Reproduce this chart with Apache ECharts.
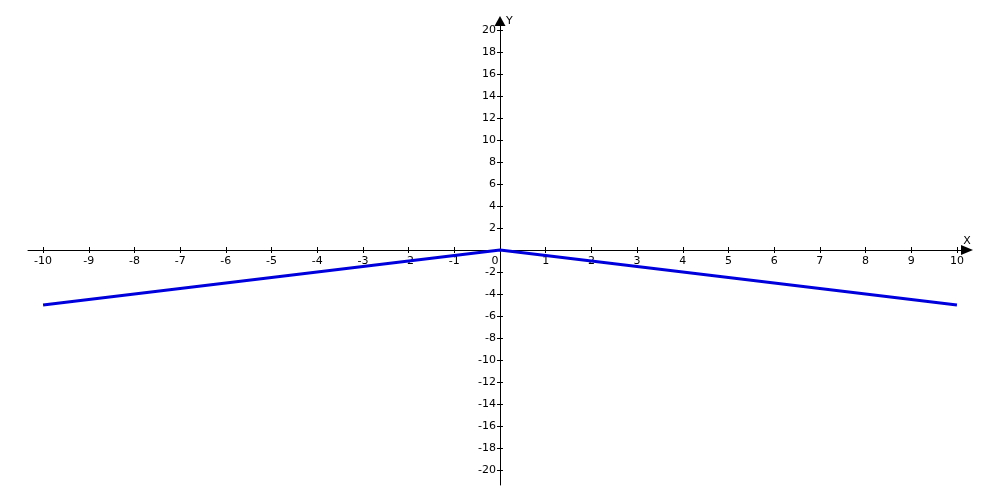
<!DOCTYPE html>
<html><head><meta charset="utf-8">
<script src="https://cdn.jsdelivr.net/npm/echarts@6/dist/echarts.min.js"></script>
<style>html,body{margin:0;padding:0;background:#fff}#c{width:1000px;height:500px}</style>
</head><body><div id="c"></div>
<script>
const xTicks = [-10,-9,-8,-7,-6,-5,-4,-3,-2,-1,0,1,2,3,4,5,6,7,8,9,10];
const yTicks = [-20,-18,-16,-14,-12,-10,-8,-6,-4,-2,2,4,6,8,10,12,14,16,18,20];
const xValues = [-10, 0, 10];
const yValues = [-5, 0, -5];

const font = 'DejaVu Sans';
const X_MIN = -10.33, X_MAX = 10.22, Y_MIN = -21.36, Y_MAX = 20.9;
const chart = echarts.init(document.getElementById('c'), null, {renderer:'canvas'});
const hidden = {axisLine:{show:false}, axisTick:{show:false}, axisLabel:{show:false}, splitLine:{show:false}};
const xCommon = {type:'value', min:X_MIN, max:X_MAX, splitLine:{show:false}};
const yCommon = {type:'value', min:Y_MIN, max:Y_MAX, splitLine:{show:false}};
chart.setOption({
  animation:false,
  backgroundColor:'#fff',
  grid:[
    {left:28, right:33, top:20, bottom:15},   // data
    {left:28, right:33, top:20, bottom:250},  // x axis along y=0
    {left:500, right:33, top:20, bottom:15}   // y axis along x=0
  ],
  xAxis:[
    Object.assign({gridIndex:0}, xCommon, hidden),
    Object.assign({gridIndex:1, position:'bottom'}, xCommon, {
      axisLine:{onZero:false, lineStyle:{color:'#000', width:1}, symbol:['none','triangle'], symbolSize:[10,12], symbolOffset:[0,0]},
      axisTick:{show:true, length:3, customValues:xTicks, lineStyle:{color:'#000'}},
      axisLabel:{customValues:xTicks, color:'#000', fontFamily:font, fontSize:11, margin:6,
        formatter:function(v){ return v===0 ? '{z|0}' : String(v); },
        rich:{z:{padding:[0,10,0,0], color:'#000', fontFamily:font, fontSize:11}}},
      name:'X', nameLocation:'end', nameGap:0,
      nameTextStyle:{color:'#000', fontFamily:font, fontSize:11, align:'center', verticalAlign:'bottom', padding:[0,0,3,0]}
    }),
    Object.assign({gridIndex:1, position:'bottom'}, xCommon, {
      axisLine:{show:false, onZero:false},
      axisTick:{show:true, inside:true, length:3, customValues:xTicks, lineStyle:{color:'#000'}},
      axisLabel:{show:false}
    }),
    Object.assign({gridIndex:2}, {type:'value', min:0, max:X_MAX}, hidden)
  ],
  yAxis:[
    Object.assign({gridIndex:0}, yCommon, hidden),
    Object.assign({gridIndex:1}, {type:'value', min:0, max:Y_MAX}, hidden),
    Object.assign({gridIndex:2, position:'left'}, yCommon, {
      axisLine:{onZero:false, lineStyle:{color:'#000', width:1}, symbol:['none','triangle'], symbolSize:[11,10], symbolOffset:[0,-1]},
      axisTick:{show:true, length:3, customValues:yTicks, lineStyle:{color:'#000'}},
      axisLabel:{customValues:yTicks, color:'#000', fontFamily:font, fontSize:11, margin:4},
      name:'Y', nameLocation:'end', nameGap:-1,
      nameTextStyle:{color:'#000', fontFamily:font, fontSize:11, align:'left', verticalAlign:'middle', padding:[0,0,0,6]}
    }),
    Object.assign({gridIndex:2, position:'left'}, yCommon, {
      axisLine:{show:false, onZero:false},
      axisTick:{show:true, inside:true, length:3, customValues:yTicks, lineStyle:{color:'#000'}},
      axisLabel:{show:false}
    })
  ],
  series:[{
    type:'line', xAxisIndex:0, yAxisIndex:0,
    data:xValues.map((x,i)=>[x, yValues[i]]),
    showSymbol:false, symbol:'none',
    lineStyle:{color:'#0000dd', width:3}
  }]
});
</script></body></html>
